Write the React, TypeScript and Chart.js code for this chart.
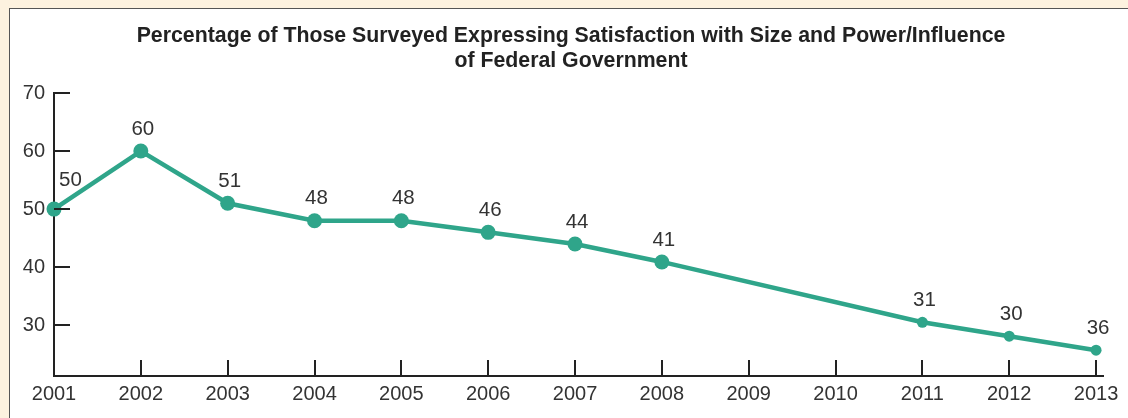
import React, { useEffect, useRef } from "react";
import { Chart, registerables } from "chart.js";

Chart.register(...registerables);

const years = [2001, 2002, 2003, 2004, 2005, 2006, 2007, 2008, 2009, 2010, 2011, 2012, 2013];
const plotted: (number | null)[] = [50, 60, 51, 48, 48, 46, 44, 40.9, null, null, 30.5, 28.1, 25.7];
const pointLabels: (string | null)[] = ["50", "60", "51", "48", "48", "46", "44", "41", null, null, "31", "30", "36"];
const yTicks = [30, 40, 50, 60, 70];
const titleLines = [
  "Percentage of Those Surveyed Expressing Satisfaction with Size and Power/Influence",
  "of Federal Government",
];

const TEAL = "rgb(47,165,138)";
const INK = "#222";
const FONT = "'Liberation Sans', Arial, Helvetica, sans-serif";

const titleDrawer = {
  id: "titleDrawer",
  afterDraw(chart: any) {
    const { ctx } = chart;
    ctx.save();
    ctx.fillStyle = INK;
    ctx.font = `bold 21.3px ${FONT}`;
    ctx.textAlign = "center";
    ctx.textBaseline = "middle";
    const cx = chart.width / 2 + 7;
    titleLines.forEach((line, i) => {
      ctx.fillText(line, cx, 36 + i * 25);
    });
    ctx.restore();
  },
};

const inwardTicks = {
  id: "inwardTicks",
  afterDatasetsDraw(chart: any) {
    const { ctx, chartArea } = chart;
    const xs = chart.scales.x;
    const ys = chart.scales.y;
    ctx.save();
    ctx.strokeStyle = INK;
    ctx.lineWidth = 2;
    ctx.beginPath();
    yTicks.forEach((v) => {
      if (v === 70) return;
      const py = Math.round(ys.getPixelForValue(v));
      ctx.moveTo(chartArea.left, py);
      ctx.lineTo(chartArea.left + 16, py);
    });
    const pTop = ys.getPixelForValue(70);
    ctx.moveTo(chartArea.left - 1, pTop);
    ctx.lineTo(chartArea.left + 16, pTop);
    years.forEach((yr) => {
      if (yr === years[0]) return;
      const px = Math.round(xs.getPixelForValue(yr));
      ctx.moveTo(px, chartArea.bottom);
      ctx.lineTo(px, chartArea.bottom - 16);
    });
    ctx.stroke();

    const meta = chart.getDatasetMeta(0);
    ctx.fillStyle = "#333";
    ctx.font = `20.5px ${FONT}`;
    ctx.textBaseline = "middle";
    let k = 0;
    plotted.forEach((v, i) => {
      if (v === null) return;
      const el = meta.data[k++];
      const txt = pointLabels[i];
      if (!el || !txt) return;
      if (i === 0) {
        ctx.textAlign = "left";
        ctx.fillText(txt, el.x + 5, el.y - 29);
      } else {
        ctx.textAlign = "center";
        ctx.fillText(txt, el.x + 2, el.y - 22);
      }
    });
    ctx.restore();
  },
};

export default function App() {
  const ref = useRef<HTMLCanvasElement | null>(null);

  useEffect(() => {
    document.body.style.margin = "0";
    if (!ref.current) return;
    const data = years
      .map((yr, i) => ({ x: yr, y: plotted[i] }))
      .filter((d) => d.y !== null);
    const chart = new Chart(ref.current, {
      type: "line",
      data: {
        datasets: [
          {
            data: data as any,
            borderColor: TEAL,
            backgroundColor: TEAL,
            borderWidth: 4.5,
            pointRadius: (c: any) => (c.raw && c.raw.x >= 2011 ? 5.5 : 7.5),
            pointBorderWidth: 0,
            pointBackgroundColor: TEAL,
            tension: 0,
            fill: false,
            clip: false as any,
          },
        ],
      },
      options: {
        animation: false,
        responsive: false,
        maintainAspectRatio: false,
        layout: { padding: { left: 8, right: 25, top: 93, bottom: 0 } },
        plugins: {
          legend: { display: false },
          tooltip: { enabled: false },
          title: { display: false },
        },
        scales: {
          x: {
            type: "linear",
            min: 2001,
            max: 2013.08,
            afterBuildTicks: (s: any) => {
              s.ticks = years.map((v) => ({ value: v }));
            },
            afterFit: (s: any) => {
              s.height = 42;
            },
            grid: { display: false, drawTicks: false },
            border: { display: true, color: INK, width: 2 },
            ticks: {
              color: "#333",
              font: { family: FONT, size: 20 },
              padding: 6,
              maxRotation: 0,
              autoSkip: false,
              callback: (v: any) => String(v),
            },
          },
          y: {
            min: 21.25,
            max: 70,
            afterBuildTicks: (s: any) => {
              s.ticks = yTicks.map((v) => ({ value: v }));
            },
            afterFit: (s: any) => {
              s.width = 46;
            },
            grid: { display: false, drawTicks: false },
            border: { display: true, color: INK, width: 2 },
            ticks: {
              color: "#333",
              font: { family: FONT, size: 20 },
              padding: 9,
            },
          },
        },
      },
      plugins: [inwardTicks, titleDrawer],
    });
    return () => chart.destroy();
  }, []);

  return (
    <div style={{ position: "absolute", left: 0, top: 0, width: 1128, height: 418, background: "#fdf2df", overflow: "hidden" }}>
      <div
        style={{
          position: "absolute",
          left: 9,
          top: 8,
          width: 1200,
          height: 500,
          background: "#fff",
          borderLeft: "1.5px solid #555",
          borderTop: "1.5px solid #555",
        }}
      />
      <canvas ref={ref} width={1128} height={418} style={{ position: "absolute", left: 0, top: 0 }} />
    </div>
  );
}
